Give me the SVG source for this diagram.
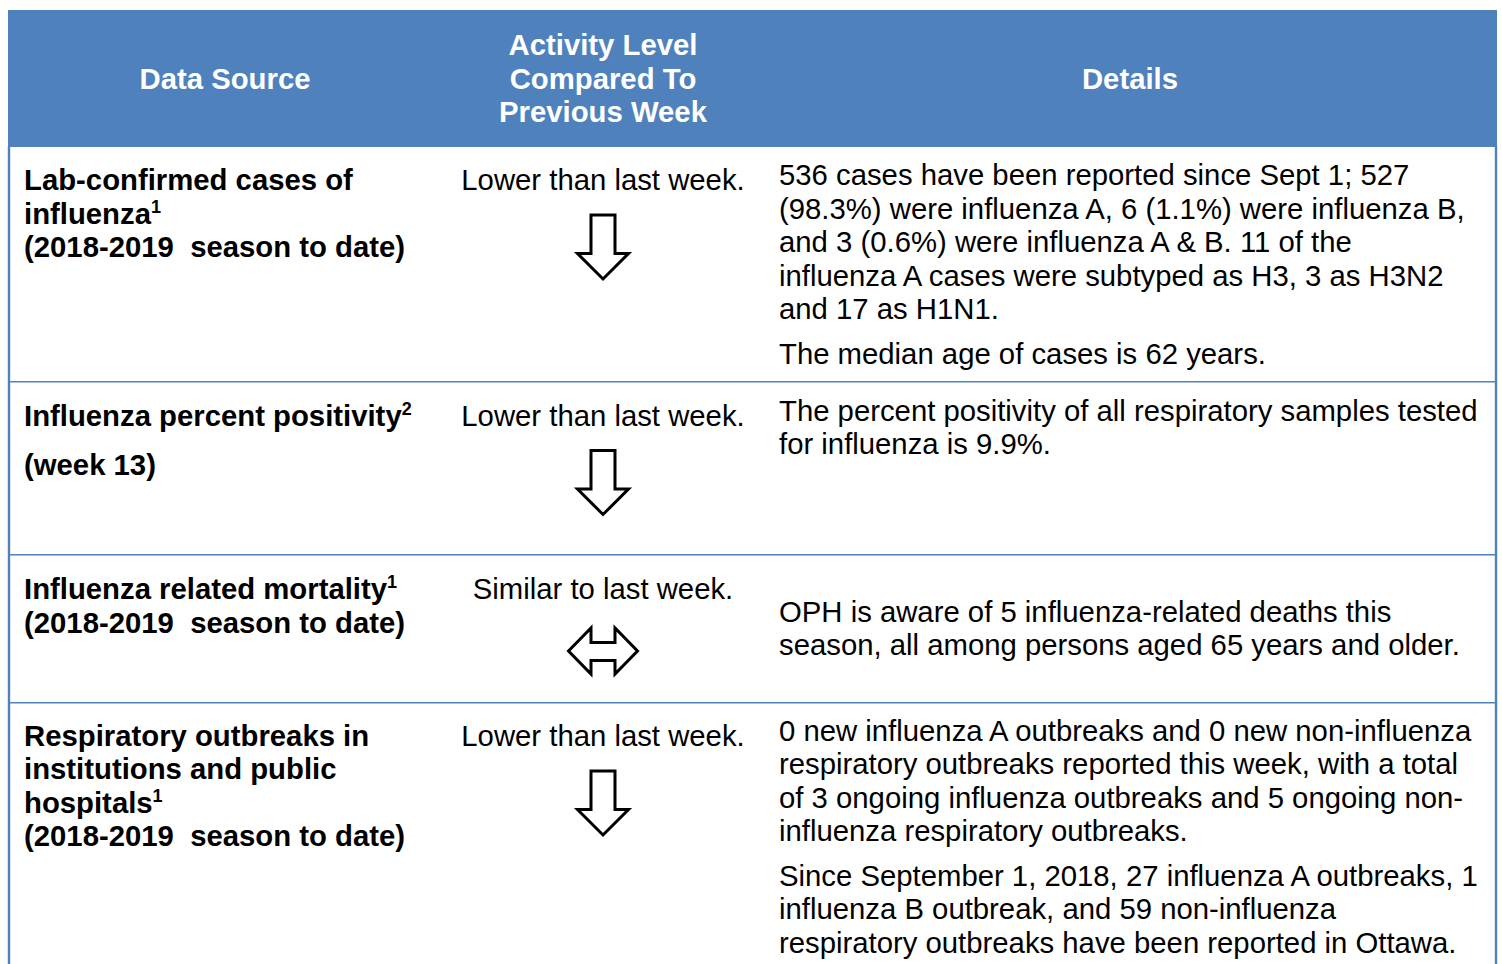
<svg xmlns="http://www.w3.org/2000/svg" width="1502" height="964" viewBox="0 0 1502 964">
<style>
text{font-family:"Liberation Sans",Arial,sans-serif;font-size:29.3px;fill:#000}
.h{font-weight:bold;fill:#fff;text-anchor:middle}
.b{font-weight:bold}
.m{text-anchor:middle}
.sup{font-size:18px}
.arrow{fill:#fff;stroke:#000;stroke-width:3;stroke-linejoin:miter}
.sep{stroke:#4F81BD;stroke-width:1.6}
.border{stroke:#4F81BD;stroke-width:2.4}
</style>
<defs>
<polygon id="down" class="arrow" points="591,215 615,215 615,253.5 628.5,253.5 603,279 577.5,253.5 591,253.5"/>
</defs>
<rect width="1502" height="964" fill="#fff"/>
<g id="table">
<rect x="8" y="10" width="1489" height="137" fill="#4F81BD"/>
<line class="border" x1="9" y1="146" x2="9" y2="964"/>
<line class="border" x1="1496" y1="146" x2="1496" y2="964"/>
<line class="sep" x1="9" y1="381.7" x2="1496" y2="381.7"/>
<line class="sep" x1="9" y1="554.7" x2="1496" y2="554.7"/>
<line class="sep" x1="9" y1="702.7" x2="1496" y2="702.7"/>
</g>
<g id="header">
<text class="h" x="225" y="89">Data Source</text>
<text class="h" x="603" y="55">Activity Level</text>
<text class="h" x="603" y="88.5">Compared To</text>
<text class="h" x="603" y="122">Previous Week</text>
<text class="h" x="1130" y="89">Details</text>
</g>
<g id="row1">
<text class="b" x="24" y="190">Lab-confirmed cases of</text>
<text class="b" x="24" y="223.5">influenza<tspan class="sup" dy="-11">1</tspan></text>
<text class="b" x="24" y="257" xml:space="preserve">(2018-2019  season to date)</text>
<text class="m" x="603" y="190">Lower than last week.</text>
<use href="#down"/>
<text x="779" y="185">536 cases have been reported since Sept 1; 527</text>
<text x="779" y="218.5">(98.3%) were influenza A, 6 (1.1%) were influenza B,</text>
<text x="779" y="252">and 3 (0.6%) were influenza A &amp; B. 11 of the</text>
<text x="779" y="285.5">influenza A cases were subtyped as H3, 3 as H3N2</text>
<text x="779" y="319">and 17 as H1N1.</text>
<text x="779" y="363.5">The median age of cases is 62 years.</text>
</g>
<g id="row2">
<text class="b" x="24" y="426">Influenza percent positivity<tspan class="sup" dy="-11">2</tspan></text>
<text class="b" x="24" y="475">(week 13)</text>
<text class="m" x="603" y="426">Lower than last week.</text>
<use href="#down" transform="translate(0,235.5)"/>
<text x="779" y="421">The percent positivity of all respiratory samples tested</text>
<text x="779" y="454">for influenza is 9.9%.</text>
</g>
<g id="row3">
<text class="b" x="24" y="599">Influenza related mortality<tspan class="sup" dy="-11">1</tspan></text>
<text class="b" x="24" y="632.5" xml:space="preserve">(2018-2019  season to date)</text>
<text class="m" x="603" y="599">Similar to last week.</text>
<polygon class="arrow" points="568.5,651 591,628 591,642.5 615,642.5 615,628 637.5,651 615,674 615,660.5 591,660.5 591,674"/>
<text x="779" y="621.5">OPH is aware of 5 influenza-related deaths this</text>
<text x="779" y="655">season, all among persons aged 65 years and older.</text>
</g>
<g id="row4">
<text class="b" x="24" y="745.5">Respiratory outbreaks in</text>
<text class="b" x="24" y="779">institutions and public</text>
<text class="b" x="24" y="812.5">hospitals<tspan class="sup" dy="-11">1</tspan></text>
<text class="b" x="24" y="846" xml:space="preserve">(2018-2019  season to date)</text>
<text class="m" x="603" y="745.5">Lower than last week.</text>
<use href="#down" transform="translate(0,556)"/>
<text x="779" y="740.5">0 new influenza A outbreaks and 0 new non-influenza</text>
<text x="779" y="774">respiratory outbreaks reported this week, with a total</text>
<text x="779" y="807.5">of 3 ongoing influenza outbreaks and 5 ongoing non-</text>
<text x="779" y="841">influenza respiratory outbreaks.</text>
<text x="779" y="885.5">Since September 1, 2018, 27 influenza A outbreaks, 1</text>
<text x="779" y="919">influenza B outbreak, and 59 non-influenza</text>
<text x="779" y="952.5">respiratory outbreaks have been reported in Ottawa.</text>
</g>
</svg>
